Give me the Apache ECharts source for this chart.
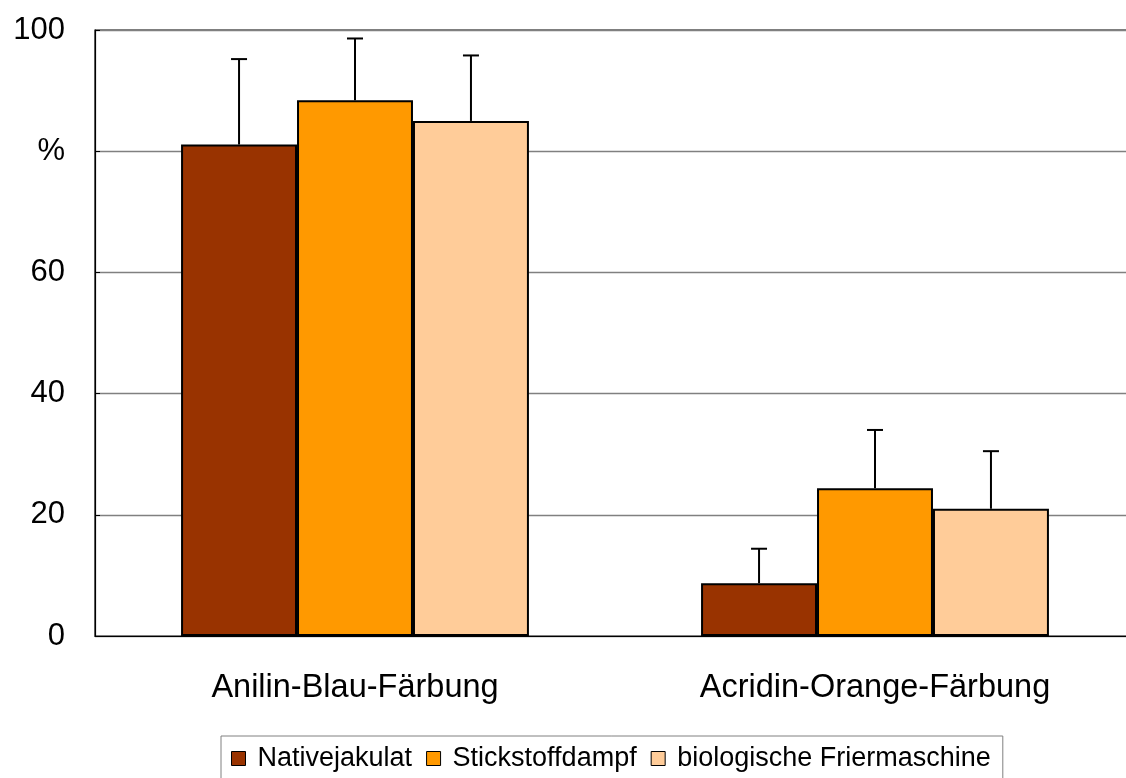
<!DOCTYPE html>
<html>
<head>
<meta charset="utf-8">
<script src="https://cdn.jsdelivr.net/npm/echarts@6/dist/echarts.min.js"></script>
<style>
html,body{margin:0;padding:0;background:#fff;}
#chart{width:1126px;height:778px;}
</style>
</head>
<body>
<div id="chart"></div>
<script>
const categories = ['Anilin-Blau-Färbung', 'Acridin-Orange-Färbung'];
const seriesNames = ['Nativejakulat', 'Stickstoffdampf', 'biologische Friermaschine'];
const seriesColors = ['#993300', '#FF9900', '#FFCC99'];
const nativValues = [81.1, 8.7];
const stickValues = [88.4, 24.4];
const bioValues = [85.0, 21.0];
const nativErrTop = [95.2, 14.4];
const stickErrTop = [98.6, 34.0];
const bioErrTop = [95.8, 30.5];
const yTicks = [0, 20, 40, 60, 80, 100];
const yTickLabels = {0: '0', 20: '20', 40: '40', 60: '60', 80: '%', 100: '100'};

const values = [nativValues, stickValues, bioValues];
const errTops = [nativErrTop, stickErrTop, bioErrTop];
const barFrac = 0.223;
const FONT = '"Liberation Sans", Arial, sans-serif';

const chart = echarts.init(document.getElementById('chart'), null, {renderer: 'canvas'});

const series = [];
seriesNames.forEach((name, i) => {
  series.push({
    name: name,
    type: 'bar',
    data: values[i],
    barWidth: (barFrac * 100) + '%',
    barGap: '0%',
    itemStyle: {color: seriesColors[i], borderColor: '#000', borderWidth: 2},
    emphasis: {disabled: true},
    z: 2
  });
});
seriesNames.forEach((name, i) => {
  series.push({
    type: 'custom',
    name: name + '_err',
    data: values[i].map((v, k) => [k, v, errTops[i][k]]),
    z: 1,
    silent: true,
    renderItem: function (params, api) {
      const k = api.value(0);
      const base = api.coord([k, api.value(1)]);
      const top = api.coord([k, api.value(2)]);
      const band = api.size([1, 0])[0];
      const x = base[0] + band * barFrac * (i - 1);
      const cap = 8;
      return {
        type: 'group',
        children: [
          {type: 'line', shape: {x1: x, y1: base[1], x2: x, y2: top[1]}, style: {stroke: '#000', lineWidth: 2}},
          {type: 'line', shape: {x1: x - cap, y1: top[1], x2: x + cap, y2: top[1]}, style: {stroke: '#000', lineWidth: 2}}
        ]
      };
    }
  });
});

chart.setOption({
  animation: false,
  backgroundColor: '#fff',
  grid: {left: 95, top: 30, width: 1040, height: 606, outerBoundsMode: 'none', containLabel: false,
    show: true, borderColor: '#000', borderWidth: 1.2, backgroundColor: 'transparent'},
  legend: {
    data: seriesNames,
    left: 221,
    top: 736,
    padding: [9, 12, 30, 10],
    itemGap: 14,
    itemWidth: 14,
    itemHeight: 14,
    icon: 'rect',
    backgroundColor: '#fff',
    borderColor: '#808080',
    borderWidth: 1,
    itemStyle: {borderColor: '#000', borderWidth: 1},
    textStyle: {fontFamily: FONT, fontSize: 27, color: '#000', padding: [0, 0, 0, 7]}
  },
  xAxis: {
    type: 'category',
    data: categories,
    axisLine: {show: true, lineStyle: {color: '#000', width: 1.2}},
    axisTick: {show: false},
    axisLabel: {fontFamily: FONT, fontSize: 32.5, color: '#000', margin: 36},
    splitLine: {show: false}
  },
  yAxis: {
    type: 'value',
    min: 0,
    max: 100,
    interval: 20,
    axisLine: {show: true, lineStyle: {color: '#000', width: 1.2}},
    axisTick: {show: true, inside: true, length: 5, lineStyle: {color: '#000'}},
    axisLabel: {fontFamily: FONT, fontSize: 31, color: '#000', margin: 30,
      formatter: v => (yTickLabels[v] !== undefined ? yTickLabels[v] : String(v))},
    splitLine: {show: true, lineStyle: {color: '#808080', width: 1.3}}
  },
  series: series
});
</script>
</body>
</html>
